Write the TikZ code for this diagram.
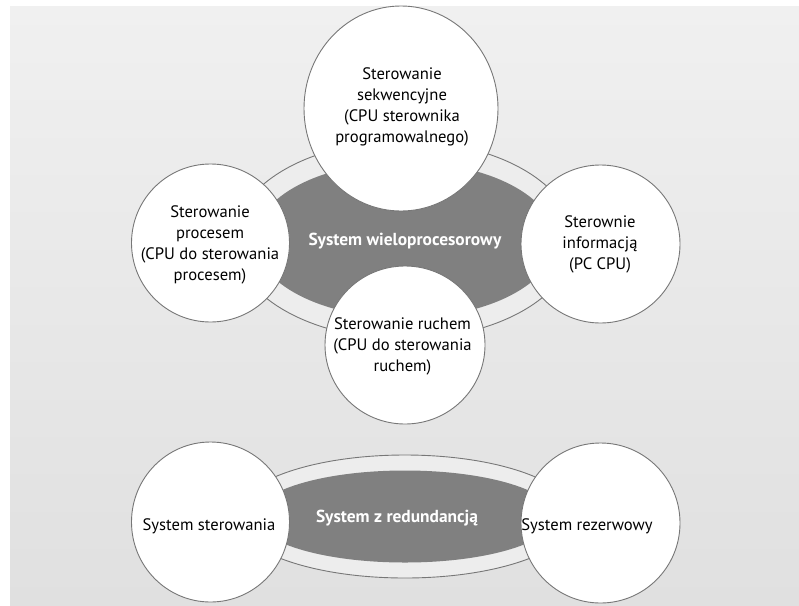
\documentclass[tikz,border=0pt]{standalone}
\usepackage{fontspec}
\setmainfont{PT Sans}
\usetikzlibrary{shapes.geometric}
\definecolor{bgtop}{HTML}{F0F0F0}
\definecolor{bgbot}{HTML}{E0E0E0}
\definecolor{ringfill}{HTML}{EDEDED}
\definecolor{edgegray}{HTML}{777777}
\definecolor{darkgray}{HTML}{808080}
\tikzset{
  ringell/.style={ellipse, draw=edgegray, line width=0.9pt, fill=ringfill, inner sep=0pt},
  coreell/.style={ellipse, fill=darkgray, draw=none, inner sep=0pt},
  bubble/.style={ellipse, draw=edgegray, line width=0.9pt, fill=white, inner sep=0pt},
  txt/.style={align=center, text=black, font=\fontsize{16.6}{21}\selectfont, inner sep=0pt},
  coretxt/.style={align=center, text=white, font=\fontsize{17.4}{21}\selectfont\bfseries, inner sep=0pt}
}
\begin{document}
\begin{tikzpicture}[x=1pt,y=-1pt]
\useasboundingbox (0,0) rectangle (799,605);
\fill[white] (0,0) rectangle (799,605);
\shade[top color=bgtop, bottom color=bgbot] (10,6) rectangle (799,605);
% upper cluster
\node[ringell, minimum width=340pt, minimum height=198pt] (ringA) at (404,240) {};
\node[coreell, minimum width=300pt, minimum height=156pt] (coreA) at (405,240) {};
\node[coretxt] (coreAt) at (405,241) {System wieloprocesorowy};
\node[bubble, minimum width=194pt, minimum height=205pt] (seq) at (401,108.5) {};
\node[bubble, minimum width=158pt, minimum height=158pt] (proc) at (210.5,243) {};
\node[bubble, minimum width=159pt, minimum height=158pt] (info) at (600.5,244) {};
\node[bubble, minimum width=160pt, minimum height=158pt] (motion) at (405,345) {};
\node[txt] (seqt) at (402,106.5) {Sterowanie\\sekwencyjne\\(CPU sterownika\\programowalnego)};
\node[txt] (proct) at (210,244.5) {Sterowanie\\procesem\\(CPU do sterowania\\procesem)};
\node[txt] (infot) at (600,244.5) {Sterownie\\informacją\\(PC CPU)};
\node[txt] (motiont) at (402.5,346.5) {Sterowanie ruchem\\(CPU do sterowania\\ruchem)};
% lower cluster
\node[ringell, minimum width=340pt, minimum height=123pt] (ringB) at (405,516.5) {};
\node[coreell, minimum width=300pt, minimum height=92pt] (coreB) at (405,516.5) {};
\node[coretxt] (coreBt) at (397,518) {System z redundancją};
\node[bubble, minimum width=158pt, minimum height=160pt] (ctrl) at (210.5,522) {};
\node[bubble, minimum width=159pt, minimum height=160pt] (backup) at (600.5,523) {};
\node[txt] (ctrlt) at (209,526) {System sterowania};
\node[txt] (backupt) at (587,526) {System rezerwowy};
\end{tikzpicture}
\end{document}
